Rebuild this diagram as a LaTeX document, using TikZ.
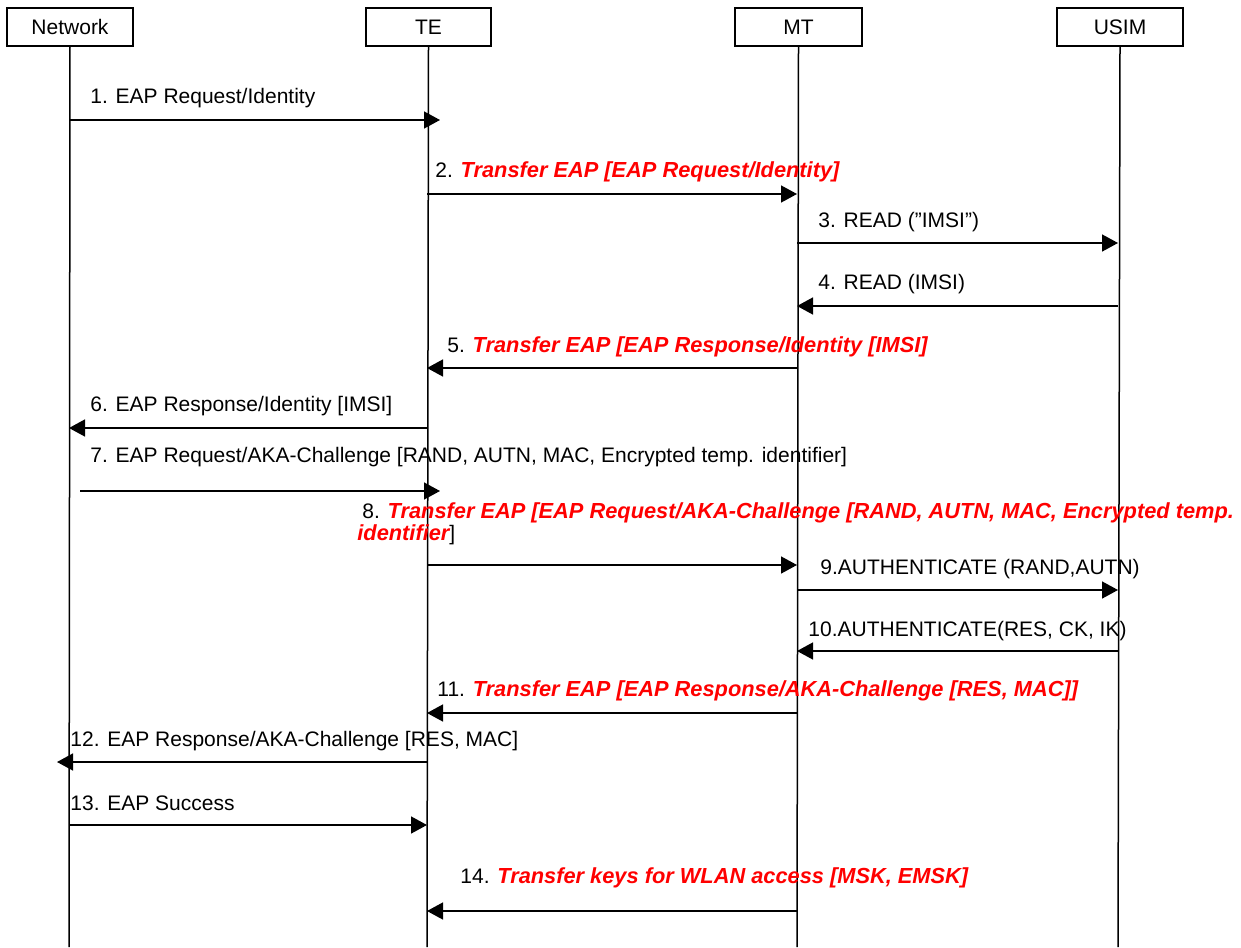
\documentclass[tikz,border=0pt]{standalone}
\usepackage{fontspec}
\setmainfont{Liberation Sans}
\usetikzlibrary{arrows.meta,positioning}
\definecolor{EAPRed}{RGB}{255,0,0}
\newcommand{\trf}[1]{{\color{EAPRed}\fontsize{10.9}{13}\selectfont\bfseries\itshape #1}}

\begin{document}
\begin{tikzpicture}[x=0.5pt,y=-0.5pt,>={Triangle[length=8pt,width=8.5pt]},
  font=\fontsize{10.5}{12.6}\selectfont,
  entity/.style={draw,line width=0.6pt,minimum height=19pt,inner sep=0pt},
  msg/.style={->,line width=0.75pt},
  life/.style={line width=0.75pt},
  lbl/.style={anchor=west,inner sep=0pt}]
\useasboundingbox (0,0) rectangle (1241,947);
% entities and lifelines
\node[entity,minimum width=63pt] (net) at (70,27) {Network};
\node[entity,minimum width=62.5pt] (te) at (428.5,27) {TE};
\node[entity,minimum width=63.5pt] (mt) at (798.5,27) {MT};
\node[entity,minimum width=63pt] (usim) at (1120,27) {USIM};
\coordinate (netE) at (69,947);\coordinate (teE) at (427,947);\coordinate (mtE) at (797,947);\coordinate (usimE) at (1118,947);
\draw[life] (net.south|-0,46)--(netE);\draw[life] (te.south|-0,46)--(teE);
\draw[life] (mt.south|-0,46)--(mtE);\draw[life] (usim.south|-0,46)--(usimE);
% message end points
\coordinate (m1a) at (69,120);\coordinate (m1b) at (440,120);
\coordinate (m2a) at (427,194);\coordinate (m2b) at (797,194);
\coordinate (m3a) at (797,243);\coordinate (m3b) at (1118,243);
\coordinate (m4a) at (1118,306);\coordinate (m4b) at (797,306);
\coordinate (m5a) at (797,368);\coordinate (m5b) at (427,368);
\coordinate (m6a) at (427,428);\coordinate (m6b) at (69,428);
\coordinate (m7a) at (80,491);\coordinate (m7b) at (440,491);
\coordinate (m8a) at (427,565);\coordinate (m8b) at (797,565);
\coordinate (m9a) at (797,590);\coordinate (m9b) at (1118,590);
\coordinate (m10a) at (1118,651);\coordinate (m10b) at (797,651);
\coordinate (m11a) at (797,713);\coordinate (m11b) at (427,713);
\coordinate (m12a) at (427,762);\coordinate (m12b) at (57,762);
\coordinate (m13a) at (69,825);\coordinate (m13b) at (427,825);
\coordinate (m14a) at (797,911);\coordinate (m14b) at (427,911);
% messages
\draw[msg] (m1a)--(m1b);\draw[msg] (m2a)--(m2b);\draw[msg] (m3a)--(m3b);\draw[msg] (m4a)--(m4b);
\draw[msg] (m5a)--(m5b);\draw[msg] (m6a)--(m6b);\draw[msg] (m7a)--(m7b);\draw[msg] (m8a)--(m8b);
\draw[msg] (m9a)--(m9b);\draw[msg] (m10a)--(m10b);\draw[msg] (m11a)--(m11b);\draw[msg] (m12a)--(m12b);
\draw[msg] (m13a)--(m13b);\draw[msg] (m14a)--(m14b);
% labels
\node[lbl] (l1) at (90,98) {1. EAP Request/Identity};
\node[lbl] (l2) at (435,172) {2. \trf{Transfer EAP [EAP Request/Identity]}};
\node[lbl] (l3) at (818,222) {3. READ (”IMSI”)};
\node[lbl] (l4) at (818,284) {4. READ (IMSI)};
\node[lbl] (l5) at (447,347) {5. \trf{Transfer EAP [EAP Response/Identity [IMSI]}};
\node[lbl] (l6) at (90,406) {6. EAP Response/Identity [IMSI]};
\node[lbl] (l7) at (90,457) {7. EAP Request/AKA-Challenge [RAND, AUTN, MAC, Encrypted temp. identifier]};
\node[lbl] (l8) at (362,513) {8. \trf{Transfer EAP [EAP Request/AKA-Challenge [RAND, AUTN, MAC, Encrypted temp.}};
\node[lbl] (l8b) at (357,535) {\trf{identifier}]};
\node[lbl] (l9) at (820,569) {9.AUTHENTICATE (RAND,AUTN)};
\node[lbl] (l10) at (808,631) {10.AUTHENTICATE(RES, CK, IK)};
\node[lbl] (l11) at (437,691) {11. \trf{Transfer EAP [EAP Response/AKA-Challenge [RES, MAC]]}};
\node[lbl] (l12) at (70,741) {12. EAP Response/AKA-Challenge [RES, MAC]};
\node[lbl] (l13) at (70,803) {13. EAP Success};
\node[lbl] (l14) at (460,878) {14. \trf{Transfer keys for WLAN access [MSK, EMSK]}};
\end{tikzpicture}
\end{document}
